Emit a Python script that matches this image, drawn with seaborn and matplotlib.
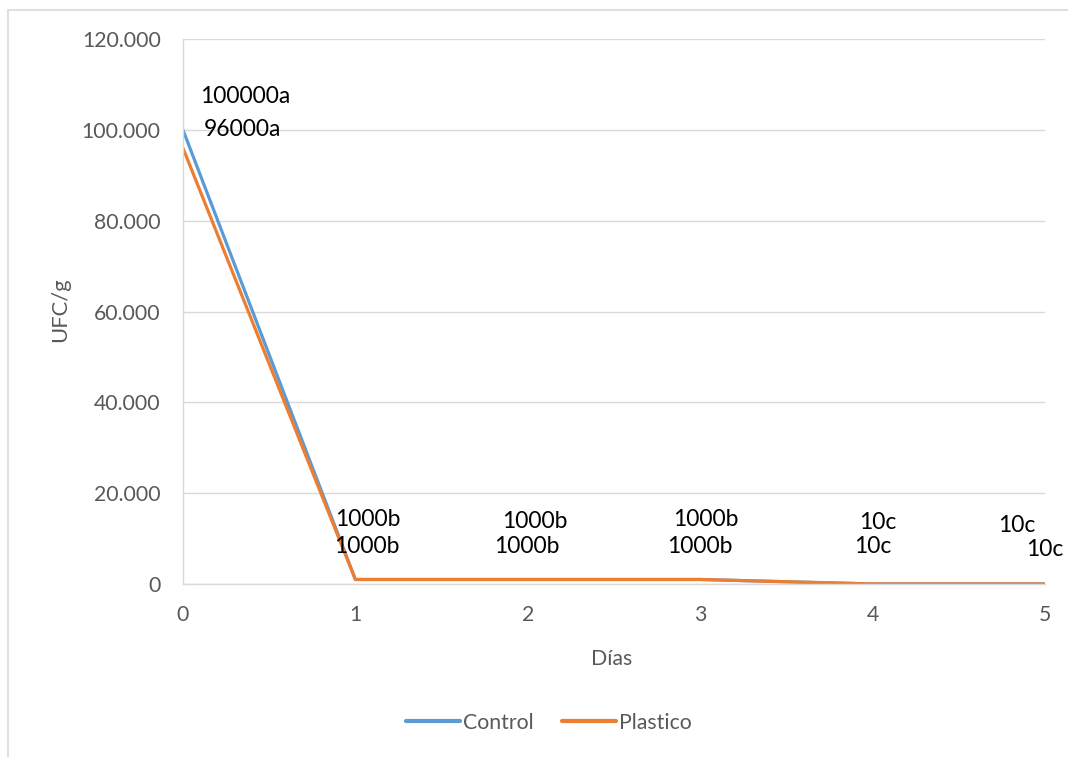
import matplotlib
matplotlib.use("Agg")
import matplotlib.pyplot as plt
from matplotlib.lines import Line2D
import seaborn as sns
import pandas as pd

# Data
dias = [0, 1, 2, 3, 4, 5]
control = [100000, 1000, 1000, 1000, 10, 10]
plastico = [96000, 1000, 1000, 1000, 10, 10]
control_labels = ["100000a", "1000b", "1000b", "1000b", "10c", "10c"]
plastico_labels = ["96000a", "1000b", "1000b", "1000b", "10c", "10c"]
series_names = ["Control", "Plastico"]
y_ticks = [0, 20000, 40000, 60000, 80000, 100000, 120000]
y_tick_labels = ["0", "20.000", "40.000", "60.000", "80.000", "100.000", "120.000"]

df = pd.DataFrame({
    "Días": dias * 2,
    "UFC/g": control + plastico,
    "Serie": [series_names[0]] * len(dias) + [series_names[1]] * len(dias),
})

sns.set_theme(style="white")
plt.rcParams["font.family"] = ["Lato", "DejaVu Sans"]

GRID = "#D9D9D9"
TXT = "#595959"
colors = {"Control": "#5B9BD5", "Plastico": "#ED7D31"}
FS = 15.3
FS_LAB = 16.5

fig = plt.figure(figsize=(10.68, 7.57), dpi=100)
ax = fig.add_axes([0.1713, 0.2285, 0.9785 - 0.1713, 0.9485 - 0.2285])

sns.lineplot(data=df, x="Días", y="UFC/g", hue="Serie", palette=colors,
             linewidth=2.3, ax=ax, legend=False)

ax.set_xlim(0, 5)
ax.set_ylim(0, 120000)
ax.set_xticks(dias)
ax.set_xticklabels([str(d) for d in dias])
ax.set_yticks(y_ticks)
ax.set_yticklabels(y_tick_labels)
ax.tick_params(axis="both", length=0, labelsize=FS, labelcolor=TXT)
ax.tick_params(axis="x", pad=15)
ax.tick_params(axis="y", pad=16)
ax.grid(axis="y", color=GRID, linewidth=1.0)
ax.set_axisbelow(True)
for side in ["top", "right"]:
    ax.spines[side].set_visible(False)
for side in ["left", "bottom"]:
    ax.spines[side].set_color(GRID)
    ax.spines[side].set_linewidth(1.0)

ax.set_xlabel("Días", fontsize=FS, color=TXT)
ax.set_ylabel("UFC/g", fontsize=FS + 0.5, color=TXT)
ax.xaxis.set_label_coords(0.497, -0.119)
ax.yaxis.set_label_coords(-0.131, 0.503)

# Data labels (offsets in points)
ctrl_off = [(45, 24), (9, 43), (5, 42), (4, 43), (4, 44), (-20, 42)]
plas_off = [(43, 13), (8, 24), (-1, 24), (0, 24), (0, 27), (0, 25)]
for x, y, lab, off in zip(dias, control, control_labels, ctrl_off):
    ax.annotate(lab, (x, y), xytext=off, textcoords="offset points",
                ha="center", va="center", fontsize=FS_LAB, color="black",
                annotation_clip=False)
for x, y, lab, off in zip(dias, plastico, plastico_labels, plas_off):
    ax.annotate(lab, (x, y), xytext=off, textcoords="offset points",
                ha="center", va="center", fontsize=FS_LAB, color="black",
                annotation_clip=False)

# Legend
handles = [Line2D([0], [0], color=colors[n], linewidth=3, solid_capstyle="round")
           for n in series_names]
fig.legend(handles, series_names, loc="center", bbox_to_anchor=(0.514, 0.045),
           ncol=2, frameon=False, fontsize=FS, labelcolor=TXT,
           handlelength=2.55, handletextpad=0.15, columnspacing=1.3)

# Chart area border (top and left edges)
fig.add_artist(Line2D([8 / 1068, 8 / 1068], [0, 1 - 10 / 757], color=GRID,
                      linewidth=1.2, transform=fig.transFigure))
fig.add_artist(Line2D([8 / 1068, 1], [1 - 10 / 757, 1 - 10 / 757], color=GRID,
                      linewidth=1.2, transform=fig.transFigure))

fig.savefig("out.png", dpi=100, facecolor="white")
